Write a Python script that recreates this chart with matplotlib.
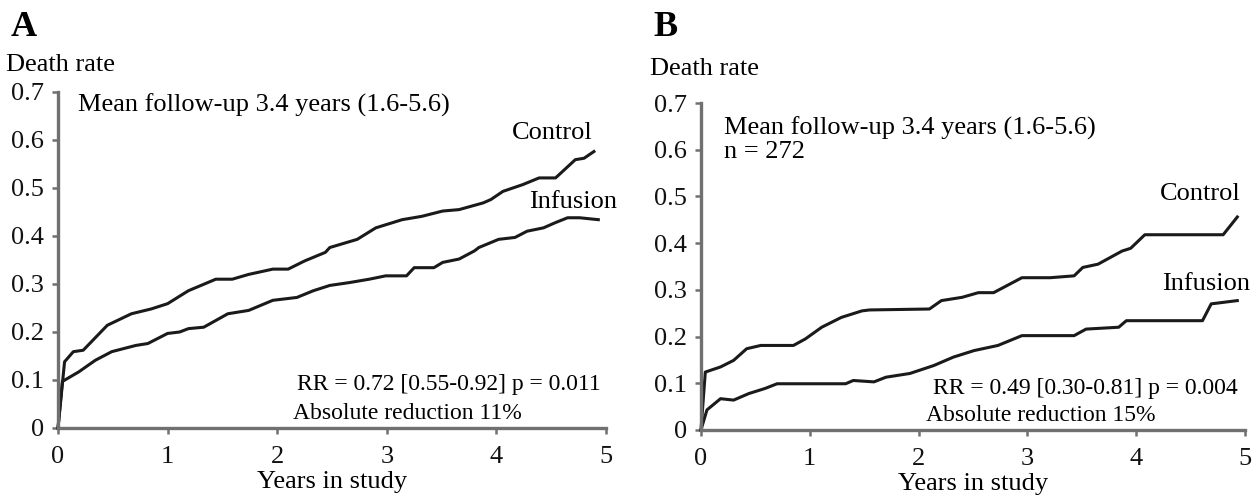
import matplotlib
matplotlib.use("Agg")
import matplotlib.pyplot as plt

plt.rcParams['font.family'] = ['Liberation Serif', 'DejaVu Serif']

# Panel A: cumulative death rate
a_ctrl_t = [0, 0.06, 0.14, 0.23, 0.45, 0.67, 0.85, 1.0, 1.19, 1.44, 1.59, 1.74, 1.96, 2.1,
            2.25, 2.44, 2.48, 2.73, 2.9, 3.14, 3.32, 3.51, 3.66, 3.88, 3.95, 4.06, 4.24,
            4.39, 4.54, 4.72, 4.8, 4.89]
a_ctrl_y = [0, 0.138, 0.159, 0.162, 0.214, 0.238, 0.248, 0.259, 0.286, 0.31, 0.31, 0.32,
            0.331, 0.331, 0.348, 0.366, 0.376, 0.393, 0.417, 0.434, 0.441, 0.452, 0.455,
            0.469, 0.476, 0.493, 0.507, 0.521, 0.521, 0.559, 0.562, 0.576]
a_inf_t = [0, 0.04, 0.19, 0.34, 0.49, 0.71, 0.82, 1.0, 1.11, 1.19, 1.33, 1.55, 1.74, 1.96,
           2.18, 2.33, 2.48, 2.66, 2.84, 2.99, 3.18, 3.25, 3.43, 3.51, 3.66, 3.8, 3.84,
           4.02, 4.17, 4.28, 4.43, 4.54, 4.65, 4.76, 4.93]
a_inf_y = [0, 0.097, 0.117, 0.141, 0.159, 0.172, 0.176, 0.197, 0.2, 0.207, 0.21, 0.238,
           0.245, 0.266, 0.272, 0.286, 0.297, 0.303, 0.31, 0.317, 0.317, 0.334, 0.334,
           0.345, 0.352, 0.369, 0.376, 0.393, 0.397, 0.41, 0.417, 0.428, 0.438, 0.438, 0.434]

# Panel B
b_ctrl_t = [0, 0.04, 0.18, 0.3, 0.42, 0.55, 0.85, 0.96, 1.11, 1.29, 1.48, 1.55, 2.1, 2.21,
            2.4, 2.55, 2.69, 2.95, 3.21, 3.43, 3.51, 3.65, 3.76, 3.87, 3.95, 4.08, 4.8, 4.93]
b_ctrl_y = [0, 0.124, 0.135, 0.149, 0.174, 0.181, 0.181, 0.195, 0.22, 0.241, 0.255, 0.257,
            0.259, 0.277, 0.284, 0.294, 0.294, 0.326, 0.326, 0.33, 0.348, 0.355, 0.369,
            0.383, 0.389, 0.418, 0.418, 0.456]
b_inf_t = [0, 0.055, 0.18, 0.3, 0.44, 0.59, 0.7, 1.33, 1.4, 1.59, 1.7, 1.92, 2.14, 2.32,
           2.51, 2.73, 2.95, 3.43, 3.54, 3.84, 3.91, 4.61, 4.69, 4.93]
b_inf_y = [0, 0.043, 0.067, 0.064, 0.078, 0.089, 0.099, 0.099, 0.106, 0.103, 0.113, 0.121,
           0.138, 0.156, 0.17, 0.181, 0.202, 0.202, 0.216, 0.22, 0.234, 0.234, 0.27, 0.277]

x_ticks = [0, 1, 2, 3, 4, 5]
y_ticks = [0, 0.1, 0.2, 0.3, 0.4, 0.5, 0.6, 0.7]
y_labels = ['0', '0.1', '0.2', '0.3', '0.4', '0.5', '0.6', '0.7']

FS = 19
FS_SMALL = 17
line_col = '#1a1a1a'
axis_col = '#707070'

fig = plt.figure(figsize=(12.58, 5.0), dpi=100)
axA = fig.add_axes([0.0461, 0.144, 0.4356, 0.672])
axB = fig.add_axes([0.5572, 0.140, 0.4324, 0.654])


def style(ax):
    ax.set_xlim(0, 5)
    ax.set_ylim(0, 0.7)
    ax.set_xticks(x_ticks)
    ax.set_yticks(y_ticks)
    ax.set_yticklabels(y_labels)
    for s in ['top', 'right']:
        ax.spines[s].set_visible(False)
    for s in ['left', 'bottom']:
        ax.spines[s].set_color(axis_col)
        ax.spines[s].set_linewidth(2.4)
    ax.tick_params(direction='out', length=4, width=1.8, color=axis_col,
                   labelsize=FS, labelcolor='#111111', pad=6)
    ax.tick_params(axis='x', pad=9)
    ax.set_xlabel('Years in study', fontsize=FS, labelpad=2)


style(axA)
style(axB)

axA.plot(a_ctrl_t, a_ctrl_y, color=line_col, lw=2.2, clip_on=False)
axA.plot(a_inf_t, a_inf_y, color=line_col, lw=2.2, clip_on=False)
axB.plot(b_ctrl_t, b_ctrl_y, color=line_col, lw=2.2, clip_on=False)
axB.plot(b_inf_t, b_inf_y, color=line_col, lw=2.2, clip_on=False)

# panel A annotations
axA.text(0.18, 0.673, 'Mean follow-up 3.4 years (1.6-5.6)', fontsize=FS, va='center')
axA.text(4.88, 0.615, 'Control', fontsize=FS, ha='right', va='center')
axA.text(5.1, 0.47, 'Infusion', fontsize=FS, ha='right', va='center')
axA.text(4.95, 0.09, 'RR = 0.72 [0.55-0.92] p = 0.011', fontsize=FS_SMALL, ha='right', va='center')
axA.text(2.14, 0.031, 'Absolute reduction 11%', fontsize=FS_SMALL, va='center')

# panel B annotations
axB.text(0.21, 0.646, 'Mean follow-up 3.4 years (1.6-5.6)', fontsize=FS, va='center')
axB.text(0.21, 0.595, 'n = 272', fontsize=FS, va='center')
axB.text(4.96, 0.506, 'Control', fontsize=FS, ha='right', va='center')
axB.text(5.05, 0.312, 'Infusion', fontsize=FS, ha='right', va='center')
axB.text(4.93, 0.089, 'RR = 0.49 [0.30-0.81] p = 0.004', fontsize=FS_SMALL, ha='right', va='center')
axB.text(2.07, 0.032, 'Absolute reduction 15%', fontsize=FS_SMALL, va='center')

# panel letters and y-axis titles
fig.text(11 / 1258, 1 - 28 / 500, 'A', fontsize=26, fontweight='bold', va='center')
fig.text(653 / 1258, 1 - 28 / 500, 'B', fontsize=26, fontweight='bold', va='center')
fig.text(6 / 1258, 1 - 65 / 500, 'Death rate', fontsize=FS, va='center')
fig.text(650 / 1258, 1 - 69 / 500, 'Death rate', fontsize=FS, va='center')

fig.savefig('out.png', dpi=100)
